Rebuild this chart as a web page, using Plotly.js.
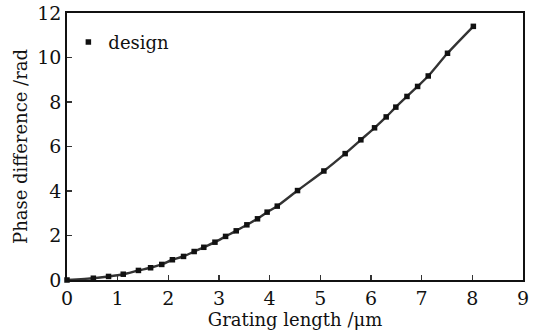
<!DOCTYPE html>
<html>
<head>
<meta charset="utf-8">
<script src="https://cdn.plot.ly/plotly-3.0.1.min.js"></script>
<style>
  html, body { margin: 0; padding: 0; background: #fff; }
  #chart { width: 547px; height: 336px; }
</style>
</head>
<body>
<div id="chart"></div>
<script>
// Grating length (µm) and the designed phase difference (rad)
const gratingLength = [0, 0.52, 0.82, 1.11, 1.41, 1.65, 1.87, 2.08, 2.30, 2.51, 2.70,
  2.92, 3.13, 3.34, 3.55, 3.76, 3.95, 4.15, 4.55, 5.07, 5.49, 5.80, 6.07, 6.30,
  6.49, 6.71, 6.92, 7.13, 7.51, 8.02];
const phaseDiff = [0, 0.08, 0.16, 0.26, 0.43, 0.55, 0.70, 0.91, 1.06, 1.28, 1.47,
  1.70, 1.96, 2.21, 2.48, 2.75, 3.05, 3.32, 4.02, 4.90, 5.68, 6.30, 6.84, 7.33,
  7.77, 8.25, 8.70, 9.17, 10.19, 11.40];

const xTicks = [0, 1, 2, 3, 4, 5, 6, 7, 8, 9];
const yTicks = [0, 2, 4, 6, 8, 10, 12];

const serif = '"DejaVu Serif", "Liberation Serif", serif';
const ink = '#111';

const traces = [
  {
    x: gratingLength,
    y: phaseDiff,
    mode: 'lines',
    line: { color: '#333', width: 2.4, shape: 'spline', smoothing: 0.6 },
    showlegend: false,
    hoverinfo: 'skip',
    cliponaxis: false
  },
  {
    x: gratingLength,
    y: phaseDiff,
    mode: 'markers',
    name: 'design',
    marker: { color: ink, size: 5.5, symbol: 'square' },
    cliponaxis: false
  }
];

const axisCommon = {
  showgrid: false,
  zeroline: false,
  showline: true,
  linecolor: ink,
  linewidth: 1.8,
  mirror: true,
  ticks: 'inside',
  ticklen: 5,
  tickwidth: 1.2,
  tickcolor: '#333',
  tickfont: { family: serif, size: 19, color: ink }
};

const layout = {
  width: 547,
  height: 336,
  margin: { l: 67, r: 24, t: 13, b: 56 },
  paper_bgcolor: '#fff',
  plot_bgcolor: '#fff',
  font: { family: serif, color: ink },
  xaxis: Object.assign({}, axisCommon, {
    range: [0, 9],
    tickvals: xTicks,
    ticktext: xTicks.map(String),
    title: { text: 'Grating length /μm', standoff: 0, font: { family: serif, size: 18, color: ink } }
  }),
  yaxis: Object.assign({}, axisCommon, {
    range: [0, 12],
    tickvals: yTicks,
    ticktext: yTicks.map(String),
    title: { text: 'Phase difference /rad', standoff: 5, font: { family: serif, size: 18, color: ink } }
  }),
  legend: {
    x: 0.003, y: 0.96, xanchor: 'left', yanchor: 'top',
    bgcolor: 'rgba(0,0,0,0)',
    font: { family: serif, size: 18, color: ink },
    itemwidth: 30
  },
  showlegend: true
};

Plotly.newPlot('chart', traces, layout, { displayModeBar: false, staticPlot: true });
</script>
</body>
</html>
